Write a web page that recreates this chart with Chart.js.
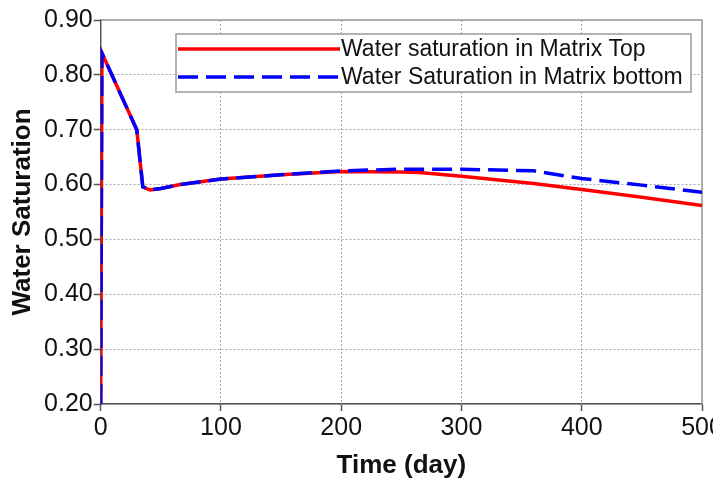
<!DOCTYPE html>
<html lang="en">
<head>
<meta charset="UTF-8">
<title>Water Saturation</title>
<style>
  html, body { margin: 0; padding: 0; background: #fff; }
  .chartBox { width: 713px; height: 481px; overflow: hidden; }
  #myChart { display: block; }
</style>
</head>
<body>
<div class="chartBox">
  <canvas id="myChart" width="740" height="481" style="width: 740px; height: 481px"></canvas>
</div>
<script src="https://cdn.jsdelivr.net/npm/chart.js"></script>
<script>
  // time (day)
  const days = [0, 1, 30, 35, 41, 50, 66, 100, 150, 200, 250, 265, 300, 360, 400, 450, 500];
  // water saturation, matrix top / bottom
  const satTop    = [0.20, 0.84, 0.70, 0.596, 0.590, 0.593, 0.600, 0.610, 0.618, 0.624, 0.623, 0.622, 0.615, 0.602, 0.591, 0.577, 0.562];
  const satBottom = [0.20, 0.84, 0.70, 0.596, 0.590, 0.593, 0.600, 0.610, 0.618, 0.625, 0.628, 0.628, 0.628, 0.625, 0.611, 0.599, 0.586];
  const seriesNames = ['Water saturation in Matrix Top', 'Water Saturation in Matrix bottom'];
  const xTitle = 'Time (day)';
  const yTitle = 'Water Saturation';
  const xMin = 0, xMax = 500, xStep = 100;
  const yMin = 0.2, yMax = 0.9, yStep = 0.1;

  const FONT = 'Liberation Sans, Arial, sans-serif';

  function toPoints(vals) {
    return days.map((d, i) => ({x: d, y: vals[i]}));
  }

  // grey frame on top / right of the plot
  const framePlugin = {
    id: 'frame',
    beforeDatasetsDraw(chart) {
      const {ctx, chartArea: a} = chart;
      ctx.save();
      ctx.strokeStyle = '#9a9a9a';
      ctx.lineWidth = 1.5;
      ctx.beginPath();
      ctx.moveTo(a.left, a.top);
      ctx.lineTo(a.right, a.top);
      ctx.lineTo(a.right, a.bottom);
      ctx.stroke();
      ctx.restore();
    }
  };

  // boxed legend inside the plot, top right
  const boxLegend = {
    id: 'boxLegend',
    afterDraw(chart) {
      const ctx = chart.ctx;
      const bx = 176, by = 34, bw = 515, bh = 58;
      ctx.save();
      ctx.fillStyle = '#fff';
      ctx.fillRect(bx, by, bw, bh);
      ctx.strokeStyle = '#9a9a9a';
      ctx.lineWidth = 1.5;
      ctx.strokeRect(bx, by, bw, bh);
      ctx.font = '23px ' + FONT;
      ctx.textBaseline = 'middle';
      ctx.fillStyle = '#111';
      chart.data.datasets.forEach((ds, i) => {
        const y = 49 + i * 28;
        ctx.strokeStyle = ds.borderColor;
        ctx.lineWidth = ds.borderWidth;
        ctx.setLineDash(ds.borderDash || []);
        ctx.beginPath();
        ctx.moveTo(178, y);
        ctx.lineTo(340, y);
        ctx.stroke();
        ctx.setLineDash([]);
        ctx.fillText(ds.label, 341, y + 1);
      });
      ctx.restore();
    }
  };

  const ctx = document.getElementById('myChart');

  const myChart = new Chart(ctx, {
    type: 'line',
    data: {
      datasets: [{
        label: seriesNames[0],
        data: toPoints(satTop),
        borderColor: '#ff0000',
        borderWidth: 3.5,
        pointRadius: 0,
        tension: 0,
        order: 2
      }, {
        label: seriesNames[1],
        data: toPoints(satBottom),
        borderColor: '#0000ff',
        borderWidth: 3.5,
        borderDash: [20, 8],
        pointRadius: 0,
        tension: 0,
        order: 1
      }]
    },
    options: {
      responsive: false,
      maintainAspectRatio: false,
      animation: false,
      layout: {
        padding: {left: 0, right: 38, top: 20, bottom: 0}
      },
      plugins: {
        legend: {display: false},
        tooltip: {enabled: false}
      },
      scales: {
        x: {
          type: 'linear',
          min: xMin,
          max: xMax,
          afterFit(scale) { scale.height = 77; },
          ticks: {
            stepSize: xStep,
            maxRotation: 0,
            padding: 2,
            color: '#111',
            font: {family: FONT, size: 25}
          },
          grid: {
            color: '#a8a8a8',
            lineWidth: 1,
            tickColor: '#555',
            tickLength: 7,
            tickWidth: 1.5
          },
          border: {color: '#555', width: 1.5, dash: [2, 2]},
          title: {
            display: true,
            text: xTitle,
            color: '#111',
            padding: {top: 0, bottom: 0},
            font: {family: FONT, size: 26, weight: 'bold'}
          }
        },
        y: {
          min: yMin,
          max: yMax,
          afterFit(scale) { scale.width = 100.7; },
          ticks: {
            stepSize: yStep,
            padding: 1,
            color: '#111',
            font: {family: FONT, size: 25},
            callback: (v) => v.toFixed(2)
          },
          grid: {
            color: '#a8a8a8',
            lineWidth: 1,
            tickColor: '#555',
            tickLength: 7,
            tickWidth: 1.5
          },
          border: {color: '#555', width: 1.5, dash: [2, 2]},
          title: {
            display: true,
            text: yTitle,
            color: '#111',
            padding: {top: 7, bottom: 0},
            font: {family: FONT, size: 26, weight: 'bold'}
          }
        }
      }
    },
    plugins: [framePlugin, boxLegend]
  });
</script>
</body>
</html>
